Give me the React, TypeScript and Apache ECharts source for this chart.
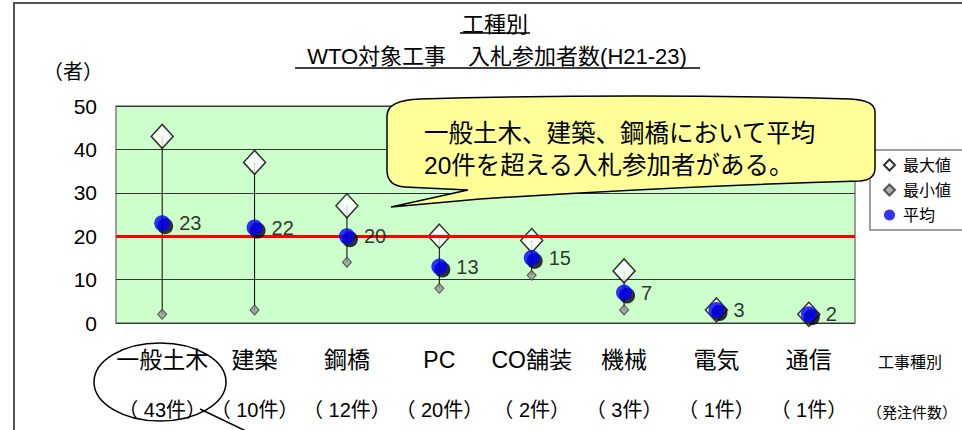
import React, { useEffect, useRef } from "react";
import * as echarts from "echarts";

const categories = ["一般土木", "建築", "鋼橋", "PC", "CO舗装", "機械", "電気", "通信"];
const orderCounts = ["43", "10", "12", "20", "2", "3", "1", "1"];
const maxValues = [43, 37, 27, 20, 19, 12, 3, 2];
const minValues = [2, 3, 14, 8, 11, 3, 3, 2];
const avgValues = [23, 22, 20, 13, 15, 7, 3, 2];
const thresholdValue = 20;

const FONT = '"Liberation Sans", "Noto Sans CJK JP", sans-serif';
const CALLOUT_PATH =
  "M 468 190 L 391 207 L 480 199 Q 680 186 860 181 Q 875 180 875 168 L 875 112 Q 875 100 850 99 Q 640 93 420 99 Q 387 100 387 116 L 387 170 Q 387 186 405 187 Z";

let shapeRegistered = false;

export default function App() {
  const ref = useRef<HTMLDivElement>(null);
  useEffect(() => {
    if (!ref.current) return;
    if (!shapeRegistered) {
      echarts.graphic.registerShape("calloutShape", echarts.graphic.extendPath(CALLOUT_PATH, {}));
      shapeRegistered = true;
    }
    const chart = echarts.init(ref.current, null, { renderer: "svg" });
    const rangeData = categories.map((_, i) => [i, minValues[i], maxValues[i]]);
    chart.setOption({
      animation: false,
      backgroundColor: "#ffffff",
      textStyle: { fontFamily: FONT },
      grid: {
        left: 116,
        right: 107,
        top: 106,
        bottom: 107,
        show: true,
        backgroundColor: "#CCFFCC",
        borderColor: "#808080",
        borderWidth: 1.5,
      },
      legend: {
        orient: "vertical",
        left: 870,
        top: 150,
        padding: [7, 10, 7, 13],
        itemGap: 9,
        itemWidth: 11,
        itemHeight: 11,
        borderWidth: 0,
        textStyle: { fontSize: 16, fontFamily: FONT, color: "#000", padding: [0, 0, 0, 3] },
        data: ["最大値", "最小値", "平均"],
      },
      xAxis: {
        type: "category",
        data: categories,
        axisLine: { show: false },
        axisTick: { show: false },
        splitLine: { show: false },
        axisLabel: {
          interval: 0,
          margin: 12,
          color: "#000",
          formatter: (v: string, i: number) => `{a|${v}}\n{b|（ ${orderCounts[i]}件）}`,
          rich: {
            a: { fontSize: 23, lineHeight: 50, fontFamily: FONT, color: "#000" },
            b: { fontSize: 20, lineHeight: 50, fontFamily: FONT, color: "#000" },
          },
        },
      },
      yAxis: {
        type: "value",
        min: 0,
        max: 50,
        interval: 10,
        axisLine: { show: false },
        axisTick: { show: false },
        splitLine: { show: true, lineStyle: { color: "#333333", width: 1 } },
        axisLabel: {
          fontSize: 21,
          fontFamily: FONT,
          color: "#000",
          margin: 19,
          padding: [6, 0, 0, 0],
        },
      },
      series: [
        {
          type: "custom",
          name: "range",
          z: 1,
          data: rangeData,
          encode: { x: 0, y: [1, 2] },
          renderItem: (params: any, api: any) => {
            const p1 = api.coord([api.value(0), api.value(1)]);
            const p2 = api.coord([api.value(0), api.value(2)]);
            return {
              type: "line",
              shape: { x1: p1[0], y1: p1[1], x2: p2[0], y2: p2[1] },
              style: { stroke: "#000", lineWidth: 1 },
            };
          },
          markLine: {
            silent: true,
            symbol: "none",
            label: { show: false },
            lineStyle: { color: "#FF0000", width: 3, type: "solid" },
            data: [{ yAxis: thresholdValue }],
          },
        },
        {
          type: "scatter",
          name: "最大値",
          z: 3,
          symbol: "diamond",
          symbolSize: [22, 24],
          itemStyle: { color: "#ffffff", borderColor: "#000", borderWidth: 1.5 },
          data: maxValues,
        },
        {
          type: "scatter",
          name: "最小値",
          z: 4,
          symbol: "diamond",
          symbolSize: [9, 10],
          itemStyle: { color: "#999999", borderColor: "#333", borderWidth: 1 },
          data: minValues,
        },
        {
          type: "scatter",
          name: "shadow",
          z: 5,
          silent: true,
          symbol: "circle",
          symbolSize: 16,
          symbolOffset: [3, 3],
          itemStyle: { color: "#000" },
          data: avgValues,
        },
        {
          type: "scatter",
          name: "平均",
          z: 6,
          symbol: "circle",
          symbolSize: 16,
          itemStyle: { color: "#0000FF" },
          label: {
            show: true,
            position: "right",
            distance: 9,
            fontSize: 20,
            fontFamily: FONT,
            color: "#000",
          },
          data: avgValues,
        },
      ],
      graphic: [
        {
          type: "rect",
          z: 50,
          silent: true,
          shape: { x: 14, y: 3, width: 1000, height: 500 },
          style: { fill: "none", stroke: "#555555", lineWidth: 2 },
        },
        {
          type: "rect",
          z: 40,
          silent: true,
          shape: { x: 870, y: 150, width: 120, height: 80 },
          style: { fill: "none", stroke: "#808080", lineWidth: 1.5 },
        },
        {
          type: "text",
          x: 495,
          y: 24,
          z: 50,
          style: { text: "工種別", fontSize: 22, fontFamily: FONT, fill: "#000", align: "center", verticalAlign: "middle" },
        },
        { type: "line", z: 50, shape: { x1: 460, y1: 33, x2: 530, y2: 33 }, style: { stroke: "#000", lineWidth: 1.5 } },
        {
          type: "text",
          x: 497,
          y: 56,
          z: 50,
          style: {
            text: "WTO対象工事　入札参加者数(H21-23)",
            fontSize: 22,
            fontFamily: FONT,
            fill: "#000",
            align: "center",
            verticalAlign: "middle",
          },
        },
        { type: "line", z: 50, shape: { x1: 295, y1: 68, x2: 700, y2: 68 }, style: { stroke: "#000", lineWidth: 1.5 } },
        {
          type: "text",
          x: 73,
          y: 72,
          z: 50,
          style: { text: "（者）", fontSize: 20, fontFamily: FONT, fill: "#000", align: "center", verticalAlign: "middle" },
        },
        {
          type: "calloutShape",
          x: 0,
          y: 0,
          z: 100,
          style: { fill: "#FFFF99", stroke: "#000", lineWidth: 1.5 },
        },
        {
          type: "text",
          x: 424,
          y: 149,
          z: 101,
          style: {
            text: "一般土木、建築、鋼橋において平均\n20件を超える入札参加者がある。",
            fontSize: 24.5,
            lineHeight: 32,
            fontFamily: FONT,
            fill: "#000",
            align: "left",
            verticalAlign: "middle",
          },
        },
        {
          type: "text",
          x: 910,
          y: 362,
          z: 50,
          style: { text: "工事種別", fontSize: 16, fontFamily: FONT, fill: "#000", align: "center", verticalAlign: "middle" },
        },
        {
          type: "text",
          x: 912,
          y: 412,
          z: 50,
          style: { text: "（発注件数）", fontSize: 15, fontFamily: FONT, fill: "#000", align: "center", verticalAlign: "middle" },
        },
        {
          type: "ellipse",
          z: 60,
          shape: { cx: 160, cy: 382, rx: 66, ry: 39 },
          style: { fill: "none", stroke: "#000", lineWidth: 1.5 },
        },
        { type: "line", z: 60, shape: { x1: 200, y1: 409, x2: 248, y2: 432 }, style: { stroke: "#000", lineWidth: 1.5 } },
      ],
    });
    return () => chart.dispose();
  }, []);
  return (
    <div
      ref={ref}
      style={{ position: "absolute", left: 0, top: 0, width: 962, height: 430, background: "#fff" }}
    />
  );
}
